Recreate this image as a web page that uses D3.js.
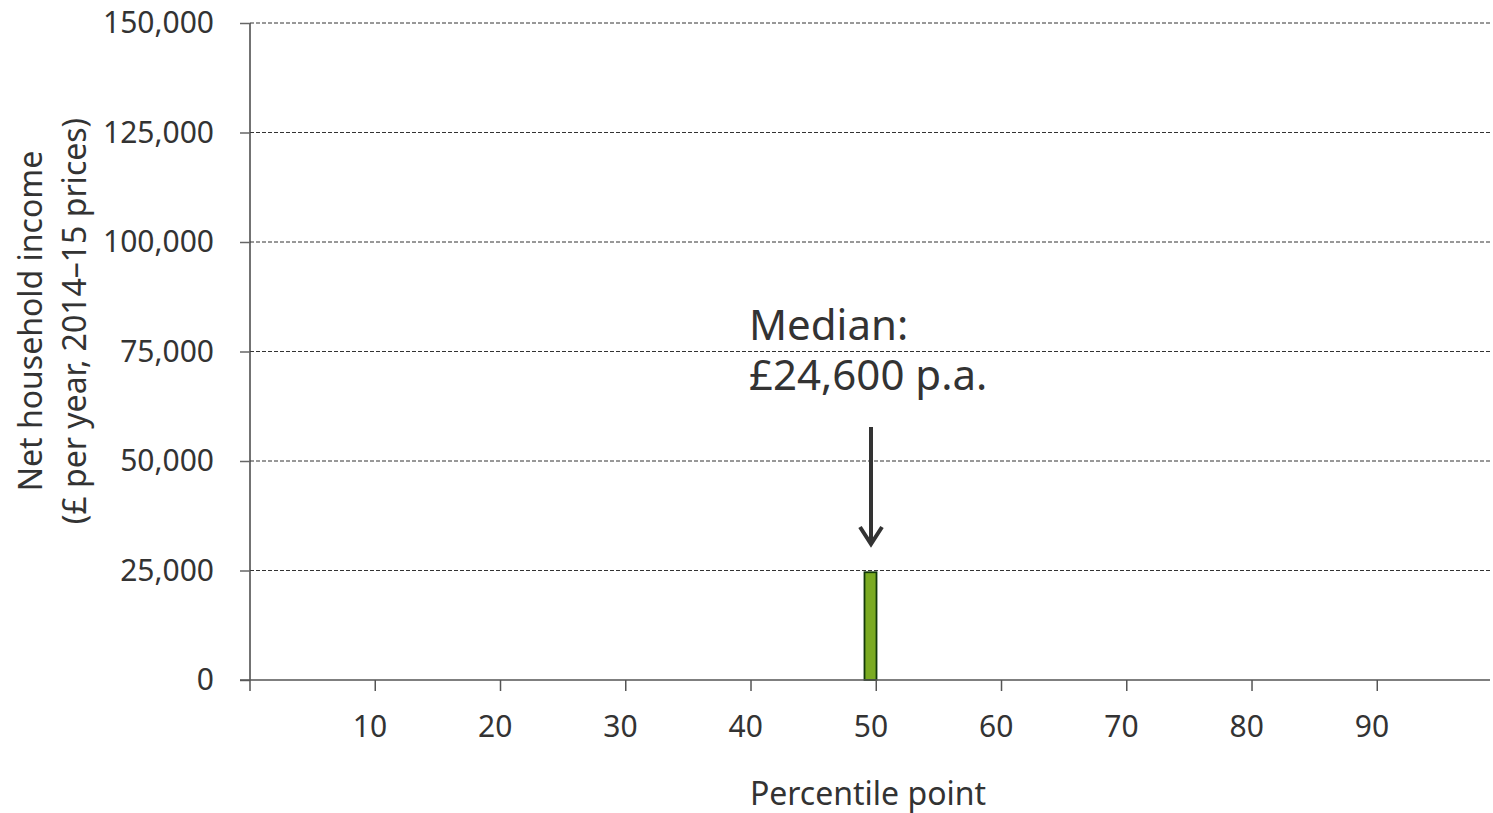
<!DOCTYPE html>
<html>
<head>
<meta charset="utf-8">
<script src="https://cdn.jsdelivr.net/npm/d3@7"></script>
<style>
  html, body { margin: 0; padding: 0; background: #fff; }
  svg { display: block; font-family: "Noto Sans", "Open Sans", sans-serif; }
</style>
</head>
<body>
<svg id="chart" width="1493" height="813"></svg>
<script>
// ---- Data ----
const percentiles = d3.range(1, 100);          // category axis: percentile points 1..99
const barPercentiles = [50];                    // shown bar
const barValues = [24600];                      // net household income (£ p.a.)
const xTickValues = [10, 20, 30, 40, 50, 60, 70, 80, 90];
const yTickValues = [0, 25000, 50000, 75000, 100000, 125000, 150000];
const annotationLines = ["Median:", "£24,600 p.a."];
const xTitle = "Percentile point";
const yTitleLines = ["Net household income", "(£ per year, 2014–15 prices)"];

// ---- Layout ----
const svg = d3.select("#chart");
const plotLeft = 250, plotRight = 1490, plotTop = 23, plotBottom = 680;
const textColor = "#333333";

const x = d3.scaleBand().domain(percentiles).range([plotLeft, plotRight]).padding(0);
const y = d3.scaleLinear().domain([0, 150000]).range([plotBottom, plotTop]);
const bw = x.bandwidth();

// gridlines
svg.append("g").selectAll("line")
  .data(yTickValues.filter(d => d > 0))
  .join("line")
  .attr("x1", plotLeft).attr("x2", plotRight)
  .attr("y1", d => y(d)).attr("y2", d => y(d))
  .attr("stroke", "#333").attr("stroke-width", 1)
  .attr("stroke-dasharray", "4,2");

// y axis
const yAxis = d3.axisLeft(y).tickValues(yTickValues)
  .tickFormat(d3.format(",")).tickSize(10).tickPadding(26);
const gy = svg.append("g").attr("transform", `translate(${plotLeft},0)`).call(yAxis);
gy.select(".domain").attr("stroke", "#444").attr("stroke-width", 1.5).attr("d", `M0,${plotTop}V${plotBottom}`);
gy.selectAll(".tick line").attr("stroke", "#666").attr("stroke-width", 1.5);
gy.selectAll(".tick text").attr("fill", textColor).attr("font-size", 30)
  .attr("font-family", "Noto Sans, sans-serif");

// bars
svg.append("g").selectAll("rect")
  .data(barPercentiles.map((p, i) => ({ p, v: barValues[i] })))
  .join("rect")
  .attr("x", d => x(d.p) + 0.75)
  .attr("width", bw - 0.5)
  .attr("y", d => y(d.v))
  .attr("height", d => y(0) - y(d.v))
  .attr("fill", "#7aab22")
  .attr("stroke", "#123a0a")
  .attr("stroke-width", 1.8);

// x axis line
svg.append("line")
  .attr("x1", plotLeft - 10).attr("x2", plotRight)
  .attr("y1", plotBottom).attr("y2", plotBottom)
  .attr("stroke", "#555").attr("stroke-width", 1.5);

// x ticks at band edges
const tickPositions = [plotLeft].concat(xTickValues.map(p => x(p) + bw));
svg.append("g").selectAll("line")
  .data(tickPositions)
  .join("line")
  .attr("x1", d => d).attr("x2", d => d)
  .attr("y1", plotBottom).attr("y2", plotBottom + 11)
  .attr("stroke", "#555").attr("stroke-width", 1.5);

// x tick labels, centred on bands
svg.append("g").selectAll("text")
  .data(xTickValues)
  .join("text")
  .attr("x", d => x(d) + bw / 2 + 1)
  .attr("y", 737)
  .attr("text-anchor", "middle")
  .attr("fill", textColor)
  .attr("font-size", 30)
  .text(d => d);

// x title
svg.append("text")
  .attr("x", 868)
  .attr("y", 805)
  .attr("text-anchor", "middle")
  .attr("fill", textColor)
  .attr("font-size", 32)
  .text(xTitle);

// y title
const yt = svg.append("text")
  .attr("transform", `translate(0,321) rotate(-90)`)
  .attr("text-anchor", "middle")
  .attr("fill", textColor)
  .attr("font-size", 32);
yTitleLines.forEach((t, i) => {
  yt.append("tspan").attr("x", 0).attr("y", 42 + i * 44).text(t);
});

// annotation
const annX = x(50) + bw / 2 + 1;
const ann = svg.append("text")
  .attr("fill", textColor)
  .attr("font-size", 42);
annotationLines.forEach((t, i) => {
  ann.append("tspan").attr("x", 749).attr("y", 340 + i * 50).text(t);
});

// arrow
svg.append("line")
  .attr("x1", annX).attr("x2", annX)
  .attr("y1", 427).attr("y2", 544)
  .attr("stroke", "#333").attr("stroke-width", 4);
svg.append("path")
  .attr("d", `M${annX - 11},${527}L${annX},${544}L${annX + 11},${527}`)
  .attr("fill", "none").attr("stroke", "#333").attr("stroke-width", 4)
  .attr("stroke-linejoin", "miter");
</script>
</body>
</html>
